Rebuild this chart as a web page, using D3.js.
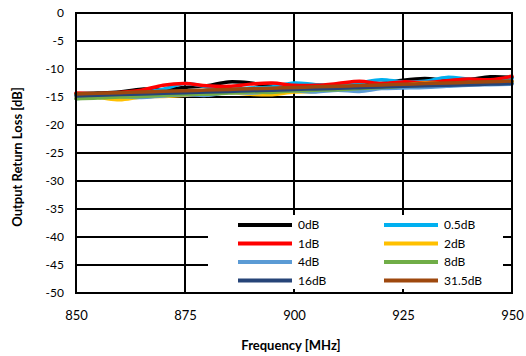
<!DOCTYPE html>
<html>
<head>
<meta charset="utf-8">
<script src="https://cdn.jsdelivr.net/npm/d3@7"></script>
<style>
  html, body { margin: 0; padding: 0; background: #fff; }
  svg { display: block; }
  text { font-family: Lato, "Open Sans", "Liberation Sans", sans-serif; fill: #000; }
</style>
</head>
<body>
<svg id="chart" width="526" height="356"></svg>
<script>
// Frequency points (MHz)
const freqs = [850, 855, 860, 865, 870, 875, 880, 885, 890, 895, 900,
               905, 910, 915, 920, 925, 930, 935, 940, 945, 950];

// Output return loss (dB) per attenuation state
const rl0dB   = [-14.4, -14.3, -14.1, -13.6, -13.7, -13.3, -13.0, -12.3, -12.5, -13.1, -13.2,
                 -13.7, -13.4, -12.7, -12.6, -12.0, -11.7, -12.0, -11.9, -11.4, -11.5];
const rl05dB  = [-14.6, -14.8, -14.5, -14.2, -13.6, -12.6, -13.2, -13.6, -13.4, -13.2, -12.5,
                 -12.8, -12.9, -12.5, -11.9, -12.3, -12.2, -11.5, -11.8, -12.0, -11.7];
const rl1dB   = [-14.3, -14.4, -14.2, -13.8, -12.9, -12.6, -13.0, -13.1, -12.7, -12.5, -12.9,
                 -12.9, -12.6, -12.2, -12.6, -12.3, -12.4, -12.1, -11.8, -11.9, -11.3];
const rl2dB   = [-15.2, -15.1, -15.5, -15.0, -14.9, -14.7, -14.4, -14.2, -14.5, -14.6, -14.1,
                 -14.0, -13.6, -13.7, -13.3, -12.9, -12.5, -12.7, -12.6, -12.4, -12.3];
const rl4dB   = [-15.3, -15.0, -14.9, -15.1, -14.8, -14.6, -14.7, -14.2, -14.3, -14.0, -13.9,
                 -14.1, -13.8, -14.0, -13.5, -13.4, -13.3, -13.1, -12.9, -12.8, -12.7];
const rl8dB   = [-15.3, -15.2, -15.0, -14.9, -14.7, -14.5, -14.5, -14.3, -14.1, -14.2, -13.9,
                 -13.8, -13.7, -13.5, -13.3, -13.1, -12.9, -12.8, -12.5, -12.4, -12.2];
const rl16dB  = [-14.8, -14.68, -14.55, -14.45, -14.33, -14.22, -14.1, -14.0, -13.88, -13.78, -13.66,
                 -13.55, -13.45, -13.33, -13.22, -13.1, -13.0, -12.9, -12.8, -12.7, -12.6];
const rl315dB = [-14.45, -14.34, -14.22, -14.11, -13.99, -13.88, -13.76, -13.65, -13.53, -13.42, -13.3,
                 -13.19, -13.07, -12.96, -12.84, -12.73, -12.61, -12.5, -12.38, -12.27, -12.15];

const seriesNames  = ["0dB", "0.5dB", "1dB", "2dB", "4dB", "8dB", "16dB", "31.5dB"];
const seriesValues = [rl0dB, rl05dB, rl1dB, rl2dB, rl4dB, rl8dB, rl16dB, rl315dB];
const seriesColors = ["#000000", "#00B0F0", "#FF0000", "#FFC000", "#5B9BD5", "#70AD47", "#264478", "#9E480E"];

const xTicks = [850, 875, 900, 925, 950];
const yTicks = [0, -5, -10, -15, -20, -25, -30, -35, -40, -45, -50];

const svg = d3.select("#chart");
const plot = { left: 76, right: 512, top: 13, bottom: 293 };

const x = d3.scaleLinear().domain([850, 950]).range([plot.left, plot.right]);
const y = d3.scaleLinear().domain([-50, 0]).range([plot.bottom, plot.top]);

// Grid lines
const grid = svg.append("g");
grid.selectAll("line.h").data(yTicks).enter().append("line")
  .attr("x1", plot.left).attr("x2", plot.right)
  .attr("y1", d => y(d)).attr("y2", d => y(d))
  .attr("stroke", "#000").attr("stroke-width", 2);
grid.selectAll("line.v").data(xTicks).enter().append("line")
  .attr("x1", d => x(d)).attr("x2", d => x(d))
  .attr("y1", plot.top).attr("y2", plot.bottom)
  .attr("stroke", "#000").attr("stroke-width", 2);

// Series lines
const line = d3.line()
  .x((d, i) => x(freqs[i]))
  .y(d => y(d))
  .curve(d3.curveCatmullRom.alpha(0.5));

svg.append("g").selectAll("path").data(seriesValues).enter().append("path")
  .attr("d", d => line(d))
  .attr("fill", "none")
  .attr("stroke", (d, i) => seriesColors[i])
  .attr("stroke-width", 3.5)
  .attr("stroke-linejoin", "round")
  .attr("stroke-linecap", "round");

// Axes (labels only; the grid carries the lines)
const xAxis = svg.append("g")
  .attr("transform", `translate(0,${plot.bottom})`)
  .call(d3.axisBottom(x).tickValues(xTicks).tickSize(0).tickPadding(18).tickFormat(d => String(d)));
xAxis.select(".domain").remove();
xAxis.selectAll("text").attr("font-size", 13).style("font-family", "Lato, 'Open Sans', sans-serif");

const yAxis = svg.append("g")
  .attr("transform", `translate(${plot.left},0)`)
  .call(d3.axisLeft(y).tickValues(yTicks).tickSize(0).tickPadding(12).tickFormat(d => String(d)));
yAxis.select(".domain").remove();
yAxis.selectAll("text").attr("font-size", 12).style("font-family", "Lato, 'Open Sans', sans-serif");

// Plot frame
svg.append("rect")
  .attr("x", plot.left).attr("y", plot.top)
  .attr("width", plot.right - plot.left).attr("height", plot.bottom - plot.top)
  .attr("fill", "none").attr("stroke", "#000").attr("stroke-width", 2);

// Axis titles
svg.append("text")
  .attr("x", 291).attr("y", 350)
  .attr("text-anchor", "middle")
  .attr("font-size", 13).attr("font-weight", "bold")
  .text("Frequency [MHz]");

svg.append("text")
  .attr("transform", "translate(22,157) rotate(-90)")
  .attr("text-anchor", "middle")
  .attr("font-size", 13).attr("font-weight", "bold")
  .text("Output  Return Loss [dB]");

// Legend
const legend = svg.append("g");
legend.append("rect")
  .attr("x", 208).attr("y", 215).attr("width", 295).attr("height", 74)
  .attr("fill", "#fff");

const rowY = [225, 243.5, 262, 280.5];
const colX = [238, 384];
seriesNames.forEach((name, i) => {
  const col = i % 2, row = Math.floor(i / 2);
  const g = legend.append("g").attr("transform", `translate(${colX[col]},${rowY[row]})`);
  g.append("line").attr("x1", 0).attr("x2", 54).attr("y1", 0).attr("y2", 0)
    .attr("stroke", seriesColors[i]).attr("stroke-width", 4);
  g.append("text").attr("x", 60).attr("y", 0).attr("dy", "0.35em")
    .attr("font-size", 12).text(name);
});
</script>
</body>
</html>
